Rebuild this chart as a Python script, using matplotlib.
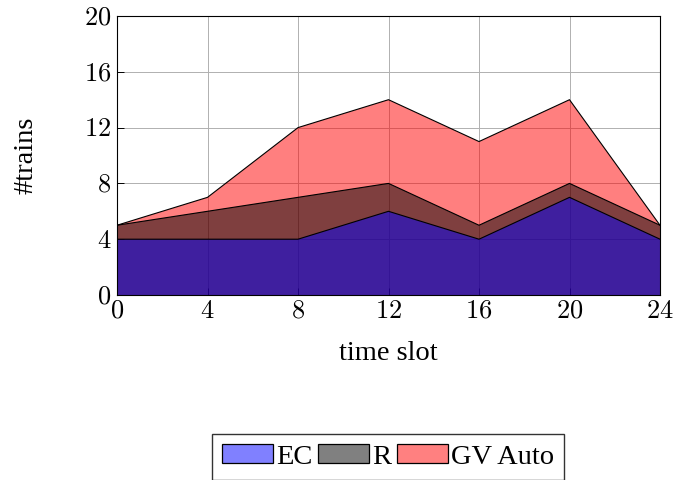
import numpy as np
import matplotlib
matplotlib.use('Agg')
from matplotlib import pyplot as plt
from matplotlib.patches import Patch

plt.rcParams['mathtext.fontset'] = 'cm'
plt.rcParams['font.family'] = 'Liberation Serif'

slots = [0, 4, 8, 12, 16, 20, 24]
ec = [4, 4, 4, 6, 4, 7, 4]
r = [5, 6, 7, 8, 5, 8, 5]
gv_auto = [5, 7, 12, 14, 11, 14, 5]

fig = plt.figure(figsize=(6.77, 4.8), dpi=100)
ax = fig.add_axes([117/677, 1 - 295/480, (660-117)/677, (295-16)/480])

# drawn back to front so the overlaps darken like the original
ax.fill_between(slots, 0, gv_auto, facecolor='red', alpha=0.5, edgecolor='none', zorder=2)
ax.plot(slots, gv_auto, color='black', lw=0.8, zorder=3)
ax.fill_between(slots, 0, r, facecolor='black', alpha=0.5, edgecolor='none', zorder=2)
ax.plot(slots, r, color='black', lw=0.8, zorder=3)
ax.fill_between(slots, 0, ec, facecolor='blue', alpha=0.5, edgecolor='none', zorder=2)
ax.plot(slots, ec, color='black', lw=0.8, zorder=3)

ax.set_xlim(0, 24)
ax.set_ylim(0, 20)
ax.set_xticks(slots)
ax.set_xticklabels(['$%d$' % s for s in slots], fontsize=19)
ax.set_yticks([0, 4, 8, 12, 16, 20])
ax.set_yticklabels(['$%d$' % v for v in [0, 4, 8, 12, 16, 20]], fontsize=19)
ax.grid(True, color='#b0b0b0', lw=0.7, zorder=1)
ax.set_axisbelow(True)
ax.tick_params(direction='in', length=5, width=0.7, pad=4)
for sp in ax.spines.values():
    sp.set_linewidth(0.8)
    sp.set_zorder(4)

ax.set_xlabel('time slot', fontsize=20.5, labelpad=13)
ax.set_ylabel('#trains', fontsize=20.5, labelpad=33)

handles = [Patch(facecolor=(0.5, 0.5, 1.0), edgecolor='black', lw=0.9),
           Patch(facecolor=(0.5, 0.5, 0.5), edgecolor='black', lw=0.9),
           Patch(facecolor=(1.0, 0.5, 0.5), edgecolor='black', lw=0.9)]
fig.legend(handles, ['EC', 'R', 'GV Auto'], loc='center', bbox_to_anchor=(388/677, 1 - 457/480),
           ncol=3, fontsize=20.5, frameon=True, fancybox=False, edgecolor='black',
           handlelength=1.8, handleheight=0.6, handletextpad=0.1, columnspacing=0.2,
           borderpad=0.35)

fig.savefig('out.png', dpi=100)
